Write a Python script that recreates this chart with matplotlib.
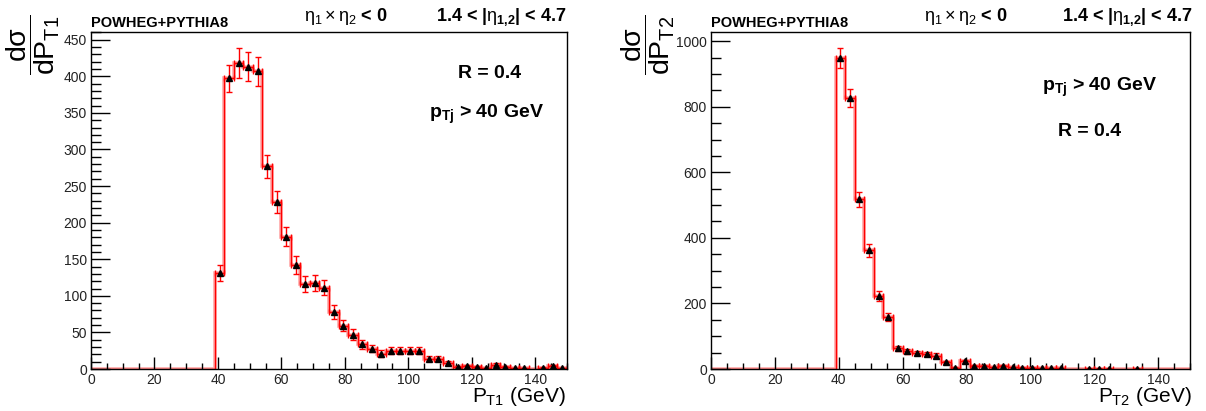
import matplotlib.pyplot as plt
import numpy as np
from matplotlib.ticker import MultipleLocator

plt.rcParams["font.family"] = ["Liberation Sans", "DejaVu Sans"]
plt.rcParams["mathtext.fontset"] = "custom"
plt.rcParams["mathtext.rm"] = "Liberation Sans"
plt.rcParams["mathtext.it"] = "Liberation Sans"
plt.rcParams["mathtext.bf"] = "Liberation Sans:bold"

# 3 GeV bins from 0 to 150, everything below 39 GeV is empty
bin_edges = np.arange(0, 151, 3)
n_empty = 13

# leading jet pT, bins 39 ... 150 GeV
pt1_counts = [131, 397, 418, 413, 407, 277, 228, 181, 142, 116, 118, 111, 78,
              59, 47, 34, 28, 21, 25, 25, 25, 25, 14, 14, 8, 3, 4, 3, 1, 6,
              3, 1, 1, 0, 1.5, 4, 1]
pt1_errors = [11, 19, 20, 20, 20, 16, 15, 13, 12, 11, 11, 10.5, 9,
              7.7, 7, 6, 5.3, 4.6, 5, 5, 5, 5, 3.7, 3.7, 2.8, 1.7, 2, 1.7, 1, 2.4,
              1.7, 1, 1, 0, 1.2, 2, 1]

# subleading jet pT, bins 39 ... 150 GeV
pt2_counts = [948, 826, 518, 362, 222, 159, 63, 54, 49, 46, 41, 20, 3,
              23, 10, 8, 5, 8, 5, 3, 3, 2.5, 2, 2, 0, 0, 1.5, 1.5, 1.5, 0,
              0, 1.5, 0, 0, 0, 0, 0]
pt2_errors = [30, 28, 23, 19, 15, 12.6, 8, 7.3, 7, 6.8, 6.4, 4.5, 1.7,
              4.8, 3.2, 2.8, 2.2, 2.8, 2.2, 1.7, 1.7, 1.6, 1.4, 1.4, 0, 0, 1.2, 1.2, 1.2, 0,
              0, 1.2, 0, 0, 0, 0, 0]

W, H = 1206, 411


def draw_panel(ax, counts, errors, ymax, ymajor, yminor):
    counts = np.concatenate([np.zeros(n_empty), counts])
    errors = np.concatenate([np.zeros(n_empty), errors])
    centers = 0.5 * (bin_edges[:-1] + bin_edges[1:])

    ax.stairs(counts, bin_edges, color="red", lw=2.6, alpha=0.35)
    ax.stairs(counts, bin_edges, color="red", lw=1.0)
    filled = counts > 0
    ax.errorbar(centers[filled], counts[filled], yerr=errors[filled], xerr=1.5,
                fmt="none", ecolor="red", elinewidth=1.0, capsize=2)
    ax.plot(centers[filled], counts[filled], "^", color="black", ms=5, zorder=5)

    ax.set_xlim(0, 150)
    ax.set_ylim(0, ymax)
    ax.xaxis.set_major_locator(MultipleLocator(20))
    ax.xaxis.set_minor_locator(MultipleLocator(5))
    ax.yaxis.set_major_locator(MultipleLocator(ymajor))
    ax.yaxis.set_minor_locator(MultipleLocator(yminor))
    ax.tick_params(which="both", direction="in", top=False, right=False,
                   labelsize=10, labelcolor="#222222", width=1)
    ax.tick_params(axis="x", which="major", length=9, pad=3)
    ax.tick_params(axis="x", which="minor", length=4.5)
    ax.tick_params(axis="y", which="major", length=14, pad=3)
    ax.tick_params(axis="y", which="minor", length=7)
    for s in ax.spines.values():
        s.set_linewidth(1)


def px(x, y):
    return x / W, 1 - y / H


fig = plt.figure(figsize=(W / 100, H / 100), dpi=100)
ax1 = fig.add_axes([91 / W, 42 / H, 476 / W, 337 / H])
ax2 = fig.add_axes([711 / W, 42 / H, 479 / W, 337 / H])

draw_panel(ax1, pt1_counts, pt1_errors, 460.5, 50, 10)
draw_panel(ax2, pt2_counts, pt2_errors, 1028, 200, 50)

for left, right, sub, ylab_x in [(91, 566, "1", 33), (711, 1192, "2", 648)]:
    fig.text(*px(left, 27), "POWHEG+PYTHIA8", fontsize=10.5, fontweight="bold")
    fig.text(*px(left + 213, 21), r"$\eta_{1}\times\eta_{2}$ < 0", fontsize=13,
             fontweight="bold")
    fig.text(*px(right, 21), r"1.4 < |$\eta_{\mathbf{1{,}2}}$| < 4.7", fontsize=13,
             fontweight="bold", ha="right")
    fig.text(*px(right, 402), r"$P_{T%s}$ (GeV)" % sub, fontsize=15, ha="right")
    fig.text(*px(ylab_x, 75), r"$\dfrac{d\sigma}{dP_{T%s}}$" % sub, fontsize=20.5,
             rotation=90, ha="center", va="bottom")

fig.text(*px(490, 73), "R = 0.4", fontsize=14, fontweight="bold", ha="center", va="center")
fig.text(*px(486, 118), r"$\mathbf{p}_{\mathbf{Tj}}$ > 40 GeV", fontsize=14,
         fontweight="bold", ha="center")
fig.text(*px(1099, 91), r"$\mathbf{p}_{\mathbf{Tj}}$ > 40 GeV", fontsize=14,
         fontweight="bold", ha="center")
fig.text(*px(1090, 131), "R = 0.4", fontsize=14, fontweight="bold", ha="center", va="center")

fig.savefig("out.png", dpi=100)
